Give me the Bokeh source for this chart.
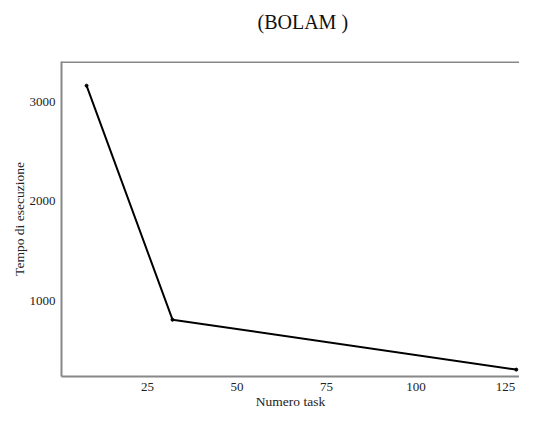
from bokeh.plotting import figure
from bokeh.embed import file_html
from bokeh.resources import INLINE
from bokeh.models import FixedTicker, Range1d, Span, Title

tasks = [8, 32, 128]
tempo = [3160, 815, 315]
x_ticks = [25, 50, 75, 100, 125]
y_ticks = [1000, 2000, 3000]
title_text = "(BOLAM )"

FONT = "Liberation Serif"

p = figure(width=519, height=411, output_backend="svg", toolbar_location=None,
           x_range=Range1d(1.0, 128.9), y_range=Range1d(246, 3402),
           min_border_left=61, min_border_top=61, min_border_bottom=0, min_border_right=0)
p.title = None

p.line(tasks, tempo, line_color="black", line_width=2)
p.scatter(tasks, tempo, size=3, color="black")

spacer = Title(text=" ", text_font=FONT, text_font_size="20px", standoff=4)
p.add_layout(spacer, "above")
main_title = Title(text=title_text, text_font=FONT, text_font_size="20px",
                   text_font_style="normal", text_color="#111111",
                   align="left", offset=196, standoff=2)
p.add_layout(main_title, "above")

p.xgrid.visible = False
p.ygrid.visible = False
p.outline_line_color = None

for ax in (p.xaxis[0], p.yaxis[0]):
    ax.axis_line_color = "#888888"
    ax.axis_line_width = 2
    ax.major_tick_line_color = None
    ax.minor_tick_line_color = None
    ax.major_label_text_font = FONT
    ax.major_label_text_font_size = "13px"
    ax.major_label_text_color = "#222222"
    ax.axis_label_text_font = FONT
    ax.axis_label_text_font_size = "13.5px"
    ax.axis_label_text_font_style = "normal"
    ax.axis_label_text_color = "#222222"

p.add_layout(Span(location=3402, dimension="width", line_color="#888888", line_width=3))

p.xaxis.ticker = FixedTicker(ticks=x_ticks)
p.yaxis.ticker = FixedTicker(ticks=y_ticks)
p.xaxis.axis_label = "Numero task"
p.yaxis.axis_label = "Tempo di esecuzione"
p.xaxis.major_label_standoff = 0
p.yaxis.major_label_standoff = 0
p.xaxis.axis_label_standoff = 0
p.yaxis.axis_label_standoff = 0

open("out.html", "w").write(file_html(p, INLINE))
